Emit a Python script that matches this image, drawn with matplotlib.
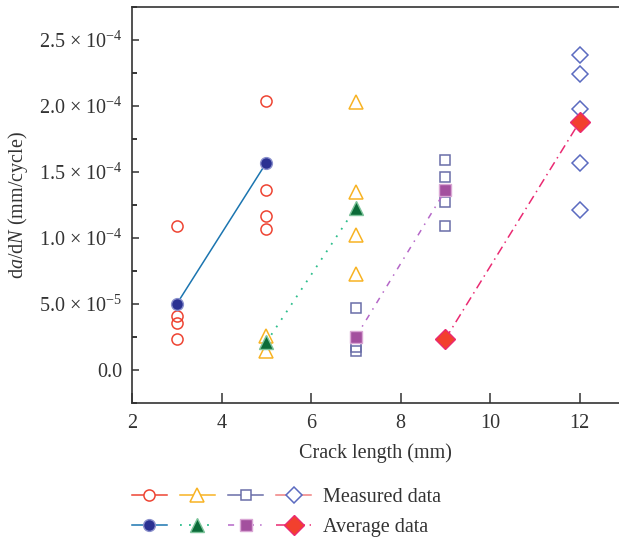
import matplotlib
matplotlib.use("Agg")
import matplotlib.pyplot as plt
import numpy as np
from matplotlib.lines import Line2D
from matplotlib.legend_handler import HandlerTuple
from matplotlib.ticker import FuncFormatter, MultipleLocator

plt.rcParams['font.family'] = ['Liberation Serif', 'DejaVu Serif']
plt.rcParams['mathtext.fontset'] = 'custom'
plt.rcParams['mathtext.rm'] = 'Liberation Serif'
plt.rcParams['mathtext.it'] = 'Liberation Serif:italic'
plt.rcParams['font.size'] = 14.5

# measured data (crack length mm, da/dN mm/cycle)
circ_x = [3, 3, 3, 3, 5, 5, 5, 5]
circ_y = [1.09e-4, 4.1e-5, 3.55e-5, 2.35e-5, 2.04e-4, 1.36e-4, 1.17e-4, 1.07e-4]
tri_x = [5, 5, 7, 7, 7, 7]
tri_y = [2.6e-5, 1.45e-5, 2.03e-4, 1.35e-4, 1.02e-4, 7.25e-5]
sq_x = [7, 7, 7, 9, 9, 9, 9]
sq_y = [4.7e-5, 1.75e-5, 1.45e-5, 1.59e-4, 1.46e-4, 1.27e-4, 1.09e-4]
dia_x = [9, 12, 12, 12, 12, 12]
dia_y = [2.35e-5, 2.39e-4, 2.24e-4, 1.98e-4, 1.57e-4, 1.21e-4]

# average data
avg1_x = [3, 5]; avg1_y = [5.0e-5, 1.57e-4]
avg2_x = [5, 7]; avg2_y = [2.1e-5, 1.23e-4]
avg3_x = [7, 9]; avg3_y = [2.5e-5, 1.36e-4]
avg4_x = [9, 12]; avg4_y = [2.35e-5, 1.88e-4]

fig = plt.figure(figsize=(6.19, 5.39), dpi=100)
ax = fig.add_axes([132/619, 1-403/539, 1-132/619, (403-7)/539])

ms = 8
ax.plot(circ_x, circ_y, 'o', ls='none', mfc='none', mec='#EE4433', ms=ms, mew=1.1)
ax.plot(tri_x, tri_y, '^', ls='none', mfc='none', mec='#F8B323', ms=ms+1.5, mew=1.1)
ax.plot(sq_x, sq_y, 's', ls='none', mfc='none', mec='#6A6EA8', ms=ms-0.5, mew=1.1)
ax.plot(dia_x, dia_y, 'D', ls='none', mfc='none', mec='#5B6BC0', ms=ms, mew=1.1)

l1, = ax.plot(avg1_x, avg1_y, '-', color='#1B75B0', lw=1.1, marker='o', mfc='#2A3192', mec='#8A90CC', ms=ms+0.5, mew=1)
l2, = ax.plot(avg2_x, avg2_y, ls=(0, (1, 4)), color='#2DBE8C', lw=1.3, marker='^', mfc='#0B6B38', mec='#7CC49A', ms=ms+1.5, mew=1)
l3, = ax.plot(avg3_x, avg3_y, ls=(0, (4, 4, 1, 4)), color='#B567C8', lw=1.1, marker='s', mfc='#A34F9E', mec='#D9A6D4', ms=ms, mew=1)
l4, = ax.plot(avg4_x, avg4_y, ls=(0, (6, 3, 1, 3)), color='#EA2A72', lw=1.1, marker='D', mfc='#F2402E', mec='#EA2A72', ms=ms+2, mew=1)

ax.set_xlim(2, 12.88)
ax.set_ylim(-2.5e-5, 2.75e-4)
ax.xaxis.set_major_locator(MultipleLocator(2))
ax.yaxis.set_major_locator(MultipleLocator(5e-5))
ax.yaxis.set_minor_locator(MultipleLocator(2.5e-5))


def sci(v, pos):
    if abs(v) < 1e-12:
        return '0.0'
    e = int(np.floor(np.log10(abs(v))))
    m = v / 10**e
    return f'{m:.1f} \u00d7 10$^{{{e}}}$'


ax.yaxis.set_major_formatter(FuncFormatter(sci))
ax.tick_params(axis='x', direction='in', length=7, width=1.1, pad=8, colors='#333333')
ax.tick_params(axis='y', which='major', direction='in', length=5, width=1.1, pad=7, colors='#333333')
ax.tick_params(axis='y', which='minor', direction='in', length=3.5, width=1.1)
for s in ['left', 'bottom', 'top']:
    ax.spines[s].set_linewidth(1.2)
    ax.spines[s].set_color('#333333')
ax.spines['right'].set_visible(False)

ax.set_xlabel('Crack length (mm)', color='#333333', labelpad=7)
ax.set_ylabel('d$\\it{a}$/d$\\it{N}$ (mm/cycle)', color='#333333', labelpad=6)

# legend rows
meas_handles = (
    Line2D([], [], color='#EE4433', lw=1.1, marker='o', mfc='white', mec='#EE4433', ms=ms, mew=1.1),
    Line2D([], [], color='#F8B323', lw=1.1, marker='^', mfc='white', mec='#F8B323', ms=ms+1.5, mew=1.1),
    Line2D([], [], color='#6A6EA8', lw=1.1, marker='s', mfc='white', mec='#6A6EA8', ms=ms-0.5, mew=1.1),
    Line2D([], [], color='#F08080', lw=1.1, marker='D', mfc='white', mec='#5B6BC0', ms=ms, mew=1.1),
)
avg_handles = (l1, l2, l3, l4)

fs = 14.5 * 100 / 72
hl = 179 / fs
pad = 13.5 / fs
for handles, label, yc in [(meas_handles, 'Measured data', 497), (avg_handles, 'Average data', 527)]:
    leg = fig.legend([handles], [label], loc='center left',
                     bbox_to_anchor=(132/619, 1 - yc/539), frameon=False,
                     borderpad=0, borderaxespad=0, numpoints=1,
                     handlelength=hl, handletextpad=12/fs,
                     handler_map={tuple: HandlerTuple(ndivide=None, pad=pad)})
    for t in leg.get_texts():
        t.set_color('#333333')

fig.savefig('out.png', dpi=100)
